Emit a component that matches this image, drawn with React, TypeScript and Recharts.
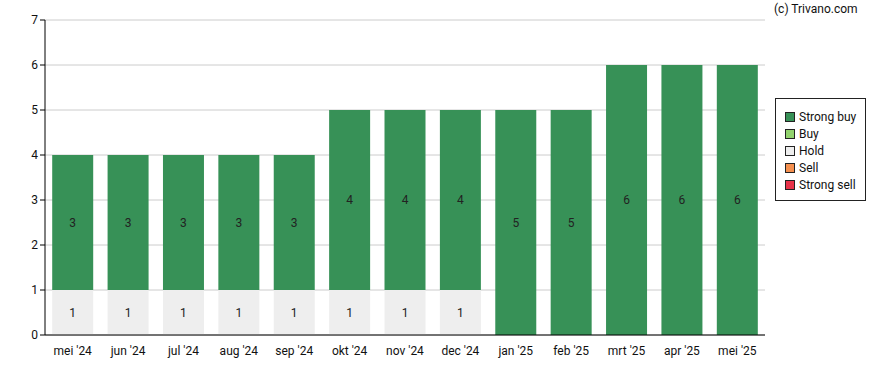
import { BarChart, Bar, XAxis, YAxis, CartesianGrid, LabelList } from "recharts";

const months = ["mei '24", "jun '24", "jul '24", "aug '24", "sep '24", "okt '24", "nov '24", "dec '24", "jan '25", "feb '25", "mrt '25", "apr '25", "mei '25"];
const strongBuy = [3, 3, 3, 3, 3, 4, 4, 4, 5, 5, 6, 6, 6];
const buy = [0, 0, 0, 0, 0, 0, 0, 0, 0, 0, 0, 0, 0];
const hold = [1, 1, 1, 1, 1, 1, 1, 1, 0, 0, 0, 0, 0];
const sell = [0, 0, 0, 0, 0, 0, 0, 0, 0, 0, 0, 0, 0];
const strongSell = [0, 0, 0, 0, 0, 0, 0, 0, 0, 0, 0, 0, 0];
const yTicks = [0, 1, 2, 3, 4, 5, 6, 7];

const series = [
  { key: "strongSell", name: "Strong sell", color: "#e8334a" },
  { key: "sell", name: "Sell", color: "#f5904f" },
  { key: "hold", name: "Hold", color: "#eeeeee" },
  { key: "buy", name: "Buy", color: "#92d36e" },
  { key: "strongBuy", name: "Strong buy", color: "#379157" },
];

const data = months.map((m, i) => ({
  month: m,
  strongBuy: strongBuy[i],
  buy: buy[i],
  hold: hold[i],
  sell: sell[i],
  strongSell: strongSell[i],
}));

const font = "Roboto, Arial, sans-serif";

const LegendBox = () => (
  <div
    style={{
      position: "absolute",
      left: 775,
      top: 98,
      boxSizing: "border-box",
      width: 91,
      height: 103,
      border: "1px solid #222",
      padding: "10px 0 0 9px",
      fontFamily: font,
      fontSize: 12,
      color: "#111",
      background: "#fff",
      whiteSpace: "nowrap",
    }}
  >
    {[...series].reverse().map((s) => (
      <div key={s.key} style={{ display: "flex", alignItems: "center", height: 16.8 }}>
        <span
          style={{
            display: "inline-block",
            width: 8,
            height: 8,
            background: s.color,
            border: "1px solid #222",
            marginRight: 4,
          }}
        />
        {s.name}
      </div>
    ))}
  </div>
);

const fmt = (v: any) => (v ? v : "");

export default function App() {
  return (
    <div style={{ position: "absolute", left: 0, top: 0, width: 888, height: 370, background: "#fff" }}>
      <div
        style={{
          position: "absolute",
          left: 774,
          top: 2,
          fontFamily: font,
          fontSize: 12,
          color: "#111",
        }}
      >
        (c) Trivano.com
      </div>
      <BarChart
        width={888}
        height={370}
        data={data}
        margin={{ top: 20, right: 123, bottom: 0, left: 0 }}
        barCategoryGap="13%"
      >
        <CartesianGrid vertical={false} stroke="#cccccc" />
        <XAxis
          dataKey="month"
          tickLine={false}
          axisLine={{ stroke: "#000" }}
          height={35}
          tick={{ fontSize: 12, fill: "#111", fontFamily: font }}
          interval={0}
          tickMargin={5}
        />
        <YAxis
          domain={[0, 7]}
          ticks={yTicks}
          width={45}
          axisLine={{ stroke: "#000" }}
          tickLine={{ stroke: "#000" }}
          tickSize={5}
          tick={{ fontSize: 12, fill: "#111", fontFamily: font }}
        />
        {series.map((s) => (
          <Bar key={s.key} dataKey={s.key} name={s.name} stackId="a" fill={s.color} isAnimationActive={false}>
            <LabelList
              dataKey={s.key}
              position="center"
              formatter={fmt}
              style={{ fontSize: 12, fill: "#222", fontFamily: font }}
            />
          </Bar>
        ))}
      </BarChart>
      <LegendBox />
    </div>
  );
}
